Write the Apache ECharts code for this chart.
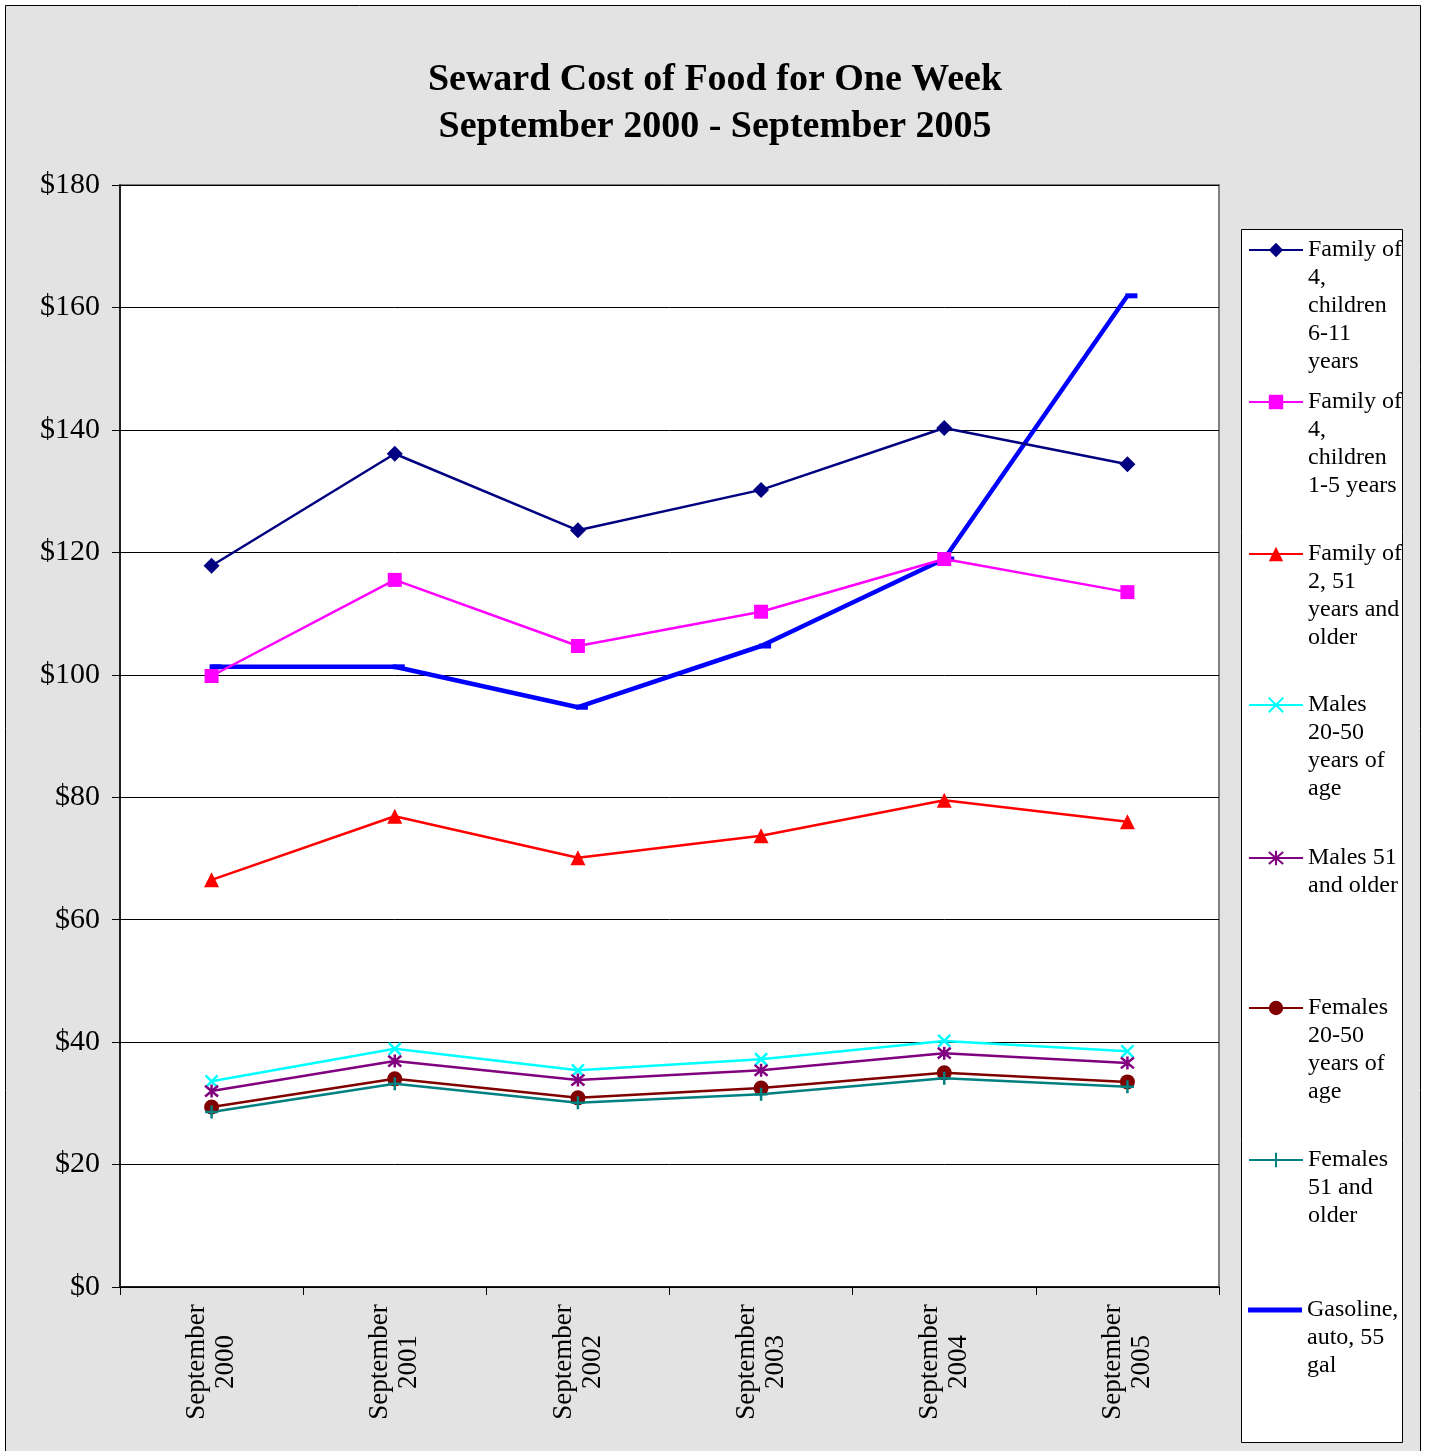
<!DOCTYPE html>
<html>
<head>
<meta charset="utf-8">
<script src="https://cdn.jsdelivr.net/npm/echarts@6/dist/echarts.min.js"></script>
<style>
  html, body { margin: 0; padding: 0; background: #fff; }
  #main { width: 1430px; height: 1451px; }
</style>
</head>
<body>
<div id="main"></div>
<script>
// categories
var years = ['September\n2000', 'September\n2001', 'September\n2002', 'September\n2003', 'September\n2004', 'September\n2005'];
var yTicks = [0, 20, 40, 60, 80, 100, 120, 140, 160, 180];

// series values (dollars per week)
var family4Kids6to11 = [117.8, 136.1, 123.6, 130.2, 140.3, 134.4];
var family4Kids1to5 = [99.8, 115.5, 104.7, 110.3, 118.9, 113.5];
var family2Over51 = [66.5, 76.9, 70.1, 73.7, 79.5, 76.0];
var males20to50 = [33.6, 38.9, 35.4, 37.2, 40.2, 38.5];
var males51 = [32.0, 36.9, 33.8, 35.4, 38.2, 36.6];
var females20to50 = [29.4, 34.0, 30.9, 32.5, 35.0, 33.5];
var females51 = [28.6, 33.2, 30.1, 31.5, 34.1, 32.7];
var gasoline = [101.3, 101.3, 94.7, 104.7, 118.9, 161.9];

var names = [
  'Family of 4, children 6-11 years',
  'Family of 4, children 1-5 years',
  'Family of 2, 51 years and older',
  'Males 20-50 years of age',
  'Males 51 and older',
  'Females 20-50 years of age',
  'Females 51 and older',
  'Gasoline, auto, 55 gal'
];
// wrapped legend text, as in the picture
var legendLines = [
  ['Family of', '4,', 'children', '6-11', 'years'],
  ['Family of', '4,', 'children', '1-5 years'],
  ['Family of', '2, 51', 'years and', 'older'],
  ['Males', '20-50', 'years of', 'age'],
  ['Males 51', 'and older'],
  ['Females', '20-50', 'years of', 'age'],
  ['Females', '51 and', 'older'],
  ['Gasoline,', 'auto, 55', 'gal']
];
var legendY = [250, 402, 554, 705, 858, 1008, 1160, 1310];

var FONT = '"Liberation Serif", "DejaVu Serif", serif';
var LH = 28;

var xPath = 'path://M0,0L10,10M10,0L0,10';
var starPath = 'path://M0,0L10,10M10,0L0,10M5,-1L5,11';
var plusPath = 'path://M5,0L5,12M1,6L9,6';

function solid(name, data, color, symbol, size) {
  return {
    name: name, type: 'line', data: data,
    symbol: symbol, symbolSize: size,
    lineStyle: { color: color, width: 2.5 },
    itemStyle: { color: color, borderColor: color, borderWidth: 0 },
    z: 3
  };
}
function stroked(name, data, color, symbol, size) {
  return {
    name: name, type: 'line', data: data,
    symbol: symbol, symbolSize: size,
    lineStyle: { color: color, width: 2.5 },
    itemStyle: { color: color, borderColor: color, borderWidth: 2.5 },
    z: 3
  };
}

var series = [
  solid(names[0], family4Kids6to11, '#000080', 'diamond', 16),
  solid(names[1], family4Kids1to5, '#ff00ff', 'rect', 14),
  solid(names[2], family2Over51, '#ff0000', 'triangle', 15),
  stroked(names[3], males20to50, '#00ffff', xPath, 12),
  stroked(names[4], males51, '#800080', starPath, 13),
  solid(names[5], females20to50, '#800000', 'circle', 15),
  stroked(names[6], females51, '#008080', plusPath, 13),
  {
    name: names[7], type: 'line', data: gasoline,
    symbol: 'rect', symbolSize: [12, 5], symbolOffset: [4, 0],
    lineStyle: { color: '#0000ff', width: 4.5 },
    itemStyle: { color: '#0000ff', borderWidth: 0 },
    z: 2
  }
];

// one legend per item so they spread down the box like the original
var legends = names.map(function (nm, i) {
  var n = legendLines[i].length;
  var pad = new Array(n).join('\n'); // blank lines so the icon sits on the first line
  var isGas = i === names.length - 1;
  return {
    data: [isGas ? { name: nm, icon: 'rect' } : nm],
    orient: 'vertical',
    left: 1248,
    top: legendY[i] - (2 * n - 1) * LH / 2,
    padding: 0,
    itemWidth: 54,
    itemHeight: isGas ? 5 : 18,
    selectedMode: false,
    formatter: function () { return pad + legendLines[i].join('\n'); },
    textStyle: { fontFamily: FONT, fontSize: 24, color: '#000', lineHeight: LH },
    z: 5
  };
});

var myChart = echarts.init(document.getElementById('main'));
myChart.setOption({
  animation: false,
  backgroundColor: '#fff',
  title: {
    text: 'Seward Cost of Food for One Week\nSeptember 2000 - September 2005',
    left: 'center',
    top: 52,
    textStyle: { fontFamily: FONT, fontSize: 38, fontWeight: 'bold', color: '#000', lineHeight: 47 }
  },
  graphic: [
    { type: 'rect', z: -10, silent: true,
      shape: { x: 5.5, y: 5.5, width: 1415, height: 1470 },
      style: { fill: '#e3e3e3', stroke: '#000', lineWidth: 1 } },
    { type: 'rect', z: -5, silent: true,
      shape: { x: 1241.5, y: 229.5, width: 161, height: 1213 },
      style: { fill: '#fff', stroke: '#000', lineWidth: 1 } }
  ],
  legend: legends,
  grid: {
    left: 120, top: 185, right: 211, bottom: 164,
    show: true, backgroundColor: '#fff', borderColor: '#808080', borderWidth: 2
  },
  xAxis: {
    type: 'category',
    data: years,
    boundaryGap: true,
    axisLine: { lineStyle: { color: '#000', width: 1.5 } },
    axisTick: { show: true, length: 8, lineStyle: { color: '#000' } },
    axisLabel: {
      rotate: 90, align: 'center', verticalAlign: 'middle', margin: 75,
      fontFamily: FONT, fontSize: 27, color: '#000', lineHeight: 29
    }
  },
  yAxis: {
    type: 'value',
    min: yTicks[0], max: yTicks[yTicks.length - 1], interval: 20,
    axisLine: { show: true, lineStyle: { color: '#000', width: 1.5 } },
    axisTick: { show: true, length: 8, lineStyle: { color: '#000' } },
    splitLine: { lineStyle: { color: '#000', width: 1 } },
    axisLabel: {
      margin: 20, fontFamily: FONT, fontSize: 30, color: '#000',
      formatter: function (v) { return '$' + v; }
    }
  },
  series: series
});
</script>
</body>
</html>
